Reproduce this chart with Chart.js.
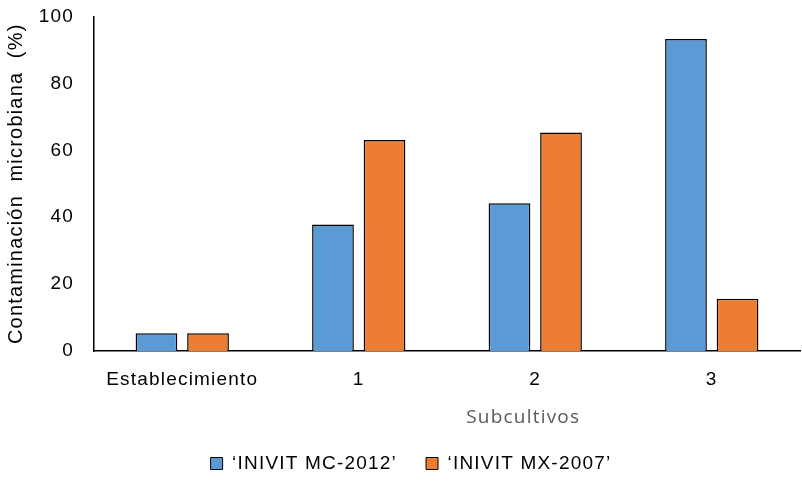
<!DOCTYPE html>
<html lang="es">
<head>
  <meta charset="UTF-8" />
  <title>Contaminación microbiana</title>
  <script src="https://cdn.jsdelivr.net/npm/chart.js"></script>
  <style>
    html, body { margin: 0; padding: 0; background: #fff; }
    #wrap { width: 802px; height: 485px; }
  </style>
</head>
<body>
  <div id="wrap"><canvas id="grafico"></canvas></div>

  <script>
    const categorias = ["Establecimiento", "1", "2", "3"];
    const serieMC = [5.3, 37.8, 44.2, 93.3];
    const serieMX = [5.3, 63.1, 65.3, 15.6];
    const nombres = ["\u2018INIVIT MC-2012\u2019", "\u2018INIVIT MX-2007\u2019"];
    const ticksY = [0, 20, 40, 60, 80, 100];

    const fuente = "'Liberation Sans'";

    // el texto del original va algo espaciado
    const espaciado = {
      id: "espaciado",
      beforeLayout(chart) { chart.ctx.letterSpacing = "1.2px"; },
      beforeDraw(chart) { chart.ctx.letterSpacing = "1.2px"; },
      afterLayout(chart) {
        // la leyenda del original esta un poco corrida a la derecha
        chart.legend.left += 9;
        chart.legend.right += 9;
      }
    };

    // titulo del eje x, desplazado a la derecha como en el original
    const tituloX = {
      id: "tituloX",
      afterDraw(chart) {
        const ctx = chart.ctx;
        const area = chart.chartArea;
        ctx.save();
        ctx.font = "19px 'Open Sans'";
        ctx.fillStyle = "#595959";
        ctx.textAlign = "center";
        ctx.textBaseline = "middle";
        ctx.fillText("Subcultivos", area.left + (area.right - area.left) * 0.608, area.bottom + 67);
        ctx.restore();
      }
    };

    new Chart(document.getElementById("grafico"), {
      type: "bar",
      data: {
        labels: categorias,
        datasets: [
          {
            label: nombres[0],
            data: serieMC,
            backgroundColor: "#5B9BD5",
            borderColor: "#000",
            borderWidth: 1.5,
            categoryPercentage: 0.584,
            barPercentage: 0.81
          },
          {
            label: nombres[1],
            data: serieMX,
            backgroundColor: "#ED7D31",
            borderColor: "#000",
            borderWidth: 1.5,
            categoryPercentage: 0.584,
            barPercentage: 0.81
          }
        ]
      },
      options: {
        responsive: true,
        maintainAspectRatio: false,
        animation: false,
        layout: { padding: { top: 0, right: 2, left: 4, bottom: 2 } },
        plugins: {
          legend: {
            position: "bottom",
            labels: {
              color: "#000",
              font: { family: fuente, size: 19 },
              boxWidth: 12,
              boxHeight: 12,
              padding: 29,
              generateLabels(chart) {
                return chart.data.datasets.map((ds, i) => ({
                  text: ds.label,
                  fillStyle: ds.backgroundColor,
                  strokeStyle: "#000",
                  lineWidth: 1,
                  datasetIndex: i,
                  fontColor: "#000"
                }));
              }
            }
          },
          tooltip: { enabled: false }
        },
        scales: {
          x: {
            grid: { display: false, drawTicks: false },
            border: { color: "#000", width: 1.5 },
            ticks: {
              color: "#000",
              font: { family: fuente, size: 19 },
              padding: 17,
              maxRotation: 0
            },
            title: {
              display: true,
              text: " ",
              font: { size: 14 },
              padding: { top: 0.4, bottom: 0 }
            }
          },
          y: {
            min: 0,
            max: 100,
            afterBuildTicks(scale) {
              scale.ticks = ticksY.map(v => ({ value: v }));
            },
            afterFit(scale) {
              scale.width = 90;
              scale.paddingTop = 16.5;
              scale.paddingBottom = 12;
            },
            grid: { display: false, drawTicks: false },
            border: { color: "#000", width: 1.5 },
            ticks: {
              color: "#000",
              font: { family: fuente, size: 19 },
              padding: 20
            },
            title: {
              display: true,
              text: "Contaminación  microbiana  (%)",
              color: "#000",
              font: { family: fuente, size: 20 },
              padding: { top: 0, bottom: 0 }
            }
          }
        }
      },
      plugins: [espaciado, tituloX]
    });
  </script>
</body>
</html>
